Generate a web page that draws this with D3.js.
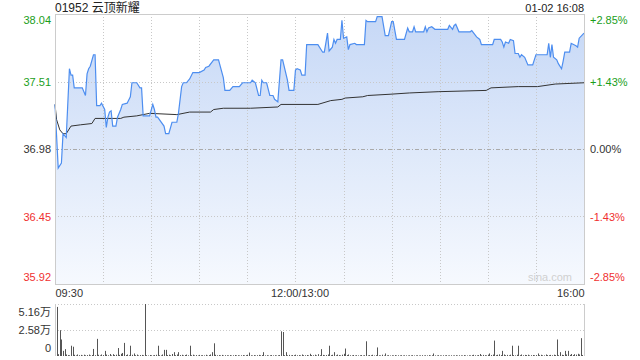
<!DOCTYPE html>
<html>
<head>
<meta charset="utf-8">
<script src="https://cdn.jsdelivr.net/npm/d3@7"></script>
<style>
  body { margin: 0; background: #fff; }
  svg text { font-family: "Liberation Sans", Arial, "Noto Sans CJK SC", sans-serif; font-size: 11px; }
</style>
</head>
<body>
<svg id="chart" width="640" height="360"></svg>
<script>
// price line, corner points
const priceTimes = ["09:30","09:32","09:34","09:35","09:37","09:39","09:40","09:41","09:42","09:47","09:49","09:50","09:51","09:52","09:54","09:55","09:56","09:58","09:59","10:01","10:02","10:03","10:04","10:05","10:06","10:08","10:09","10:11","10:12","10:15","10:17","10:18","10:21","10:23","10:24","10:25","10:29","10:31","10:32","10:33","10:34","10:38","10:39","10:41","10:43","10:46","10:47","10:49","10:50","10:52","10:54","10:56","11:00","11:03","11:04","11:06","11:09","11:12","11:15","11:16","11:19","11:21","11:25","11:27","11:32","11:33","11:35","11:37","11:38","11:39","11:40","11:42","11:44","11:46","11:47","11:49","11:51","11:52","11:55","11:56","11:59","13:00","13:01","13:03","13:04","13:06","13:07","13:14","13:17","13:18","13:20","13:21","13:23","13:24","13:25","13:26","13:28","13:29","13:30","13:32","13:33","13:34","13:37","13:38","13:43","13:44","13:45","13:50","13:51","13:54","13:56","13:58","14:00","14:01","14:03","14:08","14:10","14:11","14:13","14:14","14:15","14:20","14:21","14:22","14:23","14:25","14:27","14:35","14:36","14:38","14:39","14:40","14:42","14:49","14:50","14:53","14:55","14:56","15:03","15:04","15:08","15:09","15:10","15:11","15:13","15:14","15:16","15:17","15:19","15:20","15:21","15:23","15:25","15:28","15:30","15:37","15:38","15:39","15:40","15:41","15:43","15:44","15:46","15:47","15:48","15:51","15:52","15:55","15:56","15:57","16:00"];
const priceValues = [37.33,36.83,36.87,37.10,37.07,37.61,37.56,37.56,37.46,37.46,37.40,37.57,37.61,37.63,37.72,37.72,37.32,37.32,37.34,37.29,37.15,37.23,37.27,37.28,37.16,37.16,37.23,37.29,37.33,37.34,37.39,37.50,37.50,37.46,37.46,37.24,37.24,37.33,37.29,37.23,37.23,37.16,37.10,37.10,37.19,37.19,37.26,37.47,37.50,37.50,37.53,37.58,37.58,37.60,37.62,37.63,37.68,37.68,37.54,37.44,37.44,37.47,37.47,37.50,37.50,37.52,37.50,37.40,37.40,37.52,37.50,37.50,37.40,37.40,37.37,37.35,37.68,37.68,37.52,37.44,37.44,37.60,37.61,37.60,37.56,37.56,37.80,37.80,37.74,37.74,37.89,37.75,37.78,37.84,37.81,37.84,37.84,37.99,37.85,37.86,37.76,37.80,37.81,37.80,37.80,37.99,37.98,37.98,38.02,38.02,37.87,37.87,37.98,37.98,37.84,37.84,37.93,37.90,37.90,37.94,37.90,37.90,37.94,37.90,37.93,37.94,37.92,37.92,37.95,37.92,37.95,37.96,37.90,37.90,37.91,37.86,37.84,37.80,37.80,37.84,37.84,37.82,37.78,37.82,37.81,37.84,37.83,37.73,37.73,37.70,37.72,37.70,37.64,37.64,37.72,37.72,37.81,37.70,37.80,37.70,37.68,37.65,37.61,37.67,37.74,37.74,37.81,37.79,37.78,37.85,37.89];

// average price line
const avgTimes = ["09:30","09:31","09:33","09:35","09:37","09:40","09:46","09:53","09:55","10:11","10:13","10:21","10:29","10:46","10:54","11:07","11:09","11:15","11:32","11:49","11:51","13:14","13:22","13:29","13:31","13:42","13:45","13:59","14:11","14:29","14:59","15:02","15:19","15:31","15:42","16:00"];
const avgValues = [37.33,37.21,37.13,37.10,37.10,37.16,37.17,37.18,37.22,37.22,37.23,37.24,37.26,37.25,37.27,37.27,37.29,37.30,37.30,37.31,37.33,37.33,37.36,37.37,37.38,37.39,37.40,37.41,37.42,37.43,37.44,37.46,37.47,37.47,37.49,37.50];

// volume, one bar per trading minute from 09:30
const volumes = [
  12600,48700,1800,25600,16400,5100,6800,1500,900,700,
  10200,9200,1200,600,1500,800,1100,500,1300,700,
  900,1400,600,1000,7000,800,17000,1200,600,1500,
  900,5100,1400,700,2000,600,1800,900,1300,7900,
  1100,2200,3000,13000,900,1500,700,10200,1200,2500,
  800,1400,600,900,1100,700,51600,800,500,1000,
  700,600,900,1200,10200,800,600,1500,6100,6100,
  900,1300,700,2000,3800,800,1500,3800,900,1200,
  600,1000,1400,700,10200,800,1300,600,900,500,
  1100,700,800,600,1200,500,900,1500,3800,12600,
  1200,700,900,600,1100,500,800,700,600,900,
  500,700,1000,600,800,500,700,900,600,800,
  1200,3400,700,500,900,600,800,1100,700,900,
  3800,600,800,500,700,900,600,800,500,700,
  900,24500,23800,800,3800,700,1100,600,900,800,
  1300,700,900,600,1500,800,700,1000,600,2200,
  900,700,1300,600,1800,800,6800,1100,700,900,
  1500,10200,800,1200,3800,700,1400,900,600,1300,
  2200,7400,900,1500,700,600,1000,500,800,600,
  700,900,500,800,14600,600,900,700,1200,500,
  800,8500,700,600,1300,500,2500,600,800,500,
  700,600,900,500,700,600,800,500,700,600,
  500,700,600,800,500,600,700,500,600,800,
  500,700,600,900,500,700,2500,600,500,800,
  600,500,700,600,800,500,600,700,500,600,
  800,500,700,600,500,900,600,500,700,600,
  800,1200,700,600,900,2000,700,1100,800,600,
  1300,2500,900,1400,15300,800,1200,1600,900,5100,
  1500,800,1100,700,1300,10200,900,600,1200,10200,
  800,1500,700,1100,900,1300,600,800,1000,700,
  900,2500,800,1200,700,600,1500,900,800,1100,
  700,1300,900,16400,800,3800,1200,900,5100,1500,
  5100,1100,2000,900,1800,1300,2200,1500,17700,1000,
  18700
];

const priceTicks = [38.04, 37.51, 36.98, 36.45, 35.92];
const pctLabels = ["+2.85%", "+1.43%", "0.00%", "-1.43%", "-2.85%"];
const tickColors = ["#1a9e1a", "#1a9e1a", "#333", "#f03030", "#f03030"];
const timeTicks = ["09:30", "12:00", "16:00"];
const timeLabels = ["09:30", "12:00/13:00", "16:00"];
const volTicks = [51600, 25800, 0];
const volLabels = ["5.16万", "2.58万", "0"];

// trading minutes since open, lunch break removed
function tradeMinute(t) {
  const [h, m] = t.split(":").map(Number);
  const mins = h * 60 + m;
  if (mins <= 12 * 60) return mins - (9 * 60 + 30);
  return 150 + mins - 13 * 60;
}

const plotLeft = 55, plotRight = 584, plotTop = 14, plotBottom = 284;
const volTop = 304, volBottom = 356;

const svg = d3.select("#chart");

const x = d3.scaleLinear().domain([0, 330]).range([plotLeft, plotRight]);
const y = d3.scaleLinear().domain([35.92, 38.04]).range([plotBottom, plotTop]);
const vy = d3.scaleLinear().domain([0, 51600]).range([volBottom, volTop]);

const priceData = priceTimes.map((t, i) => ({ m: tradeMinute(t), p: priceValues[i] }));
const avgData = avgTimes.map((t, i) => ({ m: tradeMinute(t), p: avgValues[i] }));

const defs = svg.append("defs");
const grad = defs.append("linearGradient")
  .attr("id", "areaFill")
  .attr("gradientUnits", "userSpaceOnUse")
  .attr("x1", 0).attr("y1", plotTop).attr("x2", 0).attr("y2", plotBottom);
grad.append("stop").attr("offset", 0).attr("stop-color", "#c6d8f6");
grad.append("stop").attr("offset", 1).attr("stop-color", "#f6f9fe");

// area under the price
svg.append("path")
  .datum(priceData)
  .attr("fill", "url(#areaFill)")
  .attr("d", d3.area().x(d => x(d.m)).y0(plotBottom).y1(d => y(d.p)));

// grid
const grid = svg.append("g");
grid.selectAll("line.v")
  .data(d3.range(30, 330, 30))
  .enter().append("line")
  .attr("x1", d => Math.round(x(d)) + 0.5).attr("x2", d => Math.round(x(d)) + 0.5)
  .attr("y1", plotTop).attr("y2", plotBottom)
  .attr("stroke", "#c8c8c8")
  .attr("stroke-dasharray", "1,2");
grid.selectAll("line.h")
  .data(priceTicks.slice(1, 4))
  .enter().append("line")
  .attr("x1", plotLeft).attr("x2", plotRight)
  .attr("y1", d => Math.round(y(d)) + 0.5).attr("y2", d => Math.round(y(d)) + 0.5)
  .attr("stroke", d => d === 36.98 ? "#aaa" : "#c8c8c8")
  .attr("stroke-dasharray", d => d === 36.98 ? "4,2,1,2" : "1,2");

svg.append("path")
  .datum(avgData)
  .attr("fill", "none")
  .attr("stroke", "#333")
  .attr("stroke-width", 1)
  .attr("d", d3.line().x(d => x(d.m)).y(d => y(d.p)));

svg.append("path")
  .datum(priceData)
  .attr("fill", "none")
  .attr("stroke", "#4d8ef0")
  .attr("stroke-width", 1.2)
  .attr("d", d3.line().x(d => x(d.m)).y(d => y(d.p)));

// frame
svg.append("rect")
  .attr("x", plotLeft + 0.5).attr("y", plotTop + 0.5)
  .attr("width", plotRight - plotLeft).attr("height", plotBottom - plotTop)
  .attr("fill", "none").attr("stroke", "#ccc");

svg.append("text")
  .attr("x", 572).attr("y", 281)
  .attr("text-anchor", "end")
  .attr("fill", "#d0d0d0")
  .text("sina.com");

// axes
function styleAxis(g, colors) {
  g.select(".domain").remove();
  g.selectAll("text")
    .style("font-family", "'Liberation Sans', Arial, 'Noto Sans CJK SC', sans-serif")
    .style("font-size", "11px")
    .attr("fill", (d, i) => colors ? colors[i] : "#333");
}
const lastTick = priceTicks.length - 1;
const edgeShift = (d, i) => i === 0 ? 6 : i === lastTick ? -7 : 0;

svg.append("g")
  .attr("transform", `translate(${plotLeft},0)`)
  .call(d3.axisLeft(y).tickValues(priceTicks).tickSize(0).tickPadding(4).tickFormat(d3.format(".2f")))
  .call(g => styleAxis(g, tickColors))
  .selectAll("text").attr("y", edgeShift);

svg.append("g")
  .attr("transform", `translate(${plotRight},0)`)
  .call(d3.axisRight(y).tickValues(priceTicks).tickSize(0).tickPadding(6).tickFormat((d, i) => pctLabels[i]))
  .call(g => styleAxis(g, tickColors))
  .selectAll("text").attr("y", edgeShift);

svg.append("g")
  .attr("transform", `translate(0,${plotBottom})`)
  .call(d3.axisBottom(x).tickValues(timeTicks.map(tradeMinute)).tickSize(0).tickPadding(5).tickFormat((d, i) => timeLabels[i]))
  .call(g => styleAxis(g))
  .selectAll("text")
  .attr("text-anchor", (d, i) => i === 0 ? "start" : i === 2 ? "end" : "middle")
  .attr("x", (d, i) => i === 1 ? 4 : 0);

// volume panel
svg.append("g").selectAll("line")
  .data(volTicks.slice(0, 2))
  .enter().append("line")
  .attr("x1", plotLeft).attr("x2", plotRight)
  .attr("y1", d => Math.round(vy(d)) + 0.5).attr("y2", d => Math.round(vy(d)) + 0.5)
  .attr("stroke", "#c8c8c8")
  .attr("stroke-dasharray", "1,2");

svg.append("g").selectAll("line")
  .data(volumes)
  .enter().append("line")
  .attr("x1", (d, i) => Math.round(x(i)) + 0.5).attr("x2", (d, i) => Math.round(x(i)) + 0.5)
  .attr("y1", volBottom).attr("y2", d => vy(d))
  .attr("stroke", "#555")
  .attr("stroke-width", 1);

svg.append("line")
  .attr("x1", plotLeft + 0.5).attr("x2", plotLeft + 0.5)
  .attr("y1", volTop).attr("y2", volBottom)
  .attr("stroke", "#ccc");
svg.append("line")
  .attr("x1", plotRight + 0.5).attr("x2", plotRight + 0.5)
  .attr("y1", volTop).attr("y2", volBottom)
  .attr("stroke", "#ccc");

svg.append("g")
  .attr("transform", `translate(${plotLeft},0)`)
  .call(d3.axisLeft(vy).tickValues(volTicks).tickSize(0).tickPadding(4).tickFormat((d, i) => volLabels[i]))
  .call(g => styleAxis(g))
  .selectAll("text").attr("y", (d, i) => i === 0 ? 8 : i === 2 ? -8 : 0);

// header
svg.append("text")
  .attr("x", plotLeft).attr("y", 12)
  .attr("fill", "#222")
  .style("font-size", "12px")
  .text("01952 云顶新耀");
svg.append("text")
  .attr("x", plotRight).attr("y", 12)
  .attr("text-anchor", "end")
  .attr("fill", "#222")
  .text("01-02 16:08");
</script>
</body>
</html>
